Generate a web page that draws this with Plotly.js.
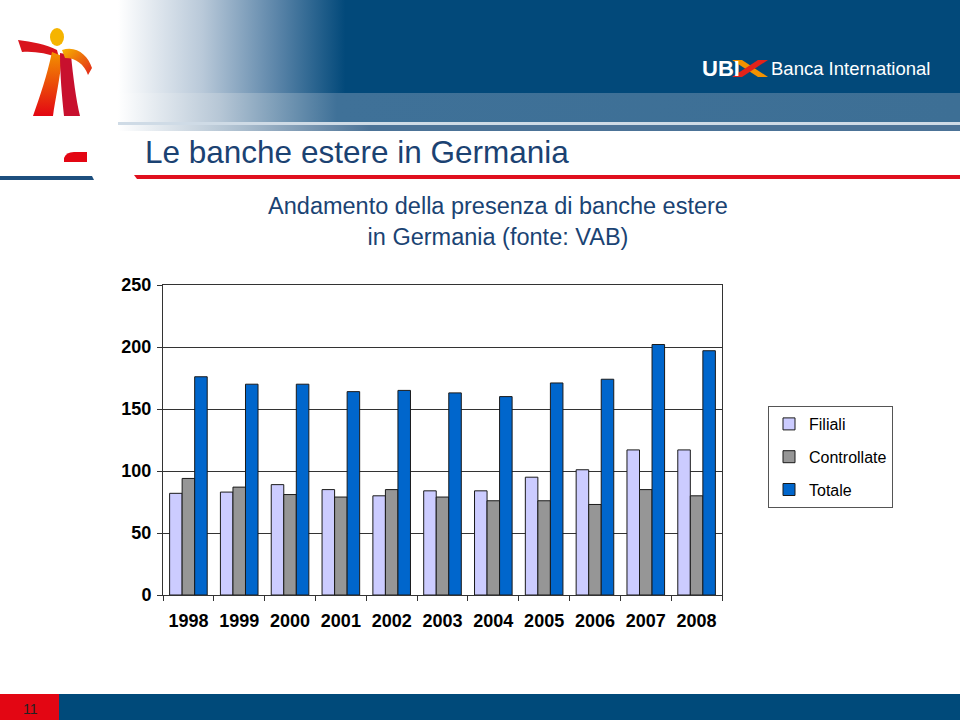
<!DOCTYPE html>
<html>
<head>
<meta charset="utf-8">
<script src="https://cdn.plot.ly/plotly-3.0.1.min.js"></script>
<style>
  html, body { margin: 0; padding: 0; background: #ffffff; }
  #chart { width: 960px; height: 720px; }
</style>
</head>
<body>
<div id="chart"></div>
<script>
// ---- Data ----
var years = ["1998", "1999", "2000", "2001", "2002", "2003", "2004", "2005", "2006", "2007", "2008"];
var filiali = [82, 83, 89, 85, 80, 84, 84, 95, 101, 117, 117];
var controllate = [94, 87, 81, 79, 85, 79, 76, 76, 73, 85, 80];
var totale = [176, 170, 170, 164, 165, 163, 160, 171, 174, 202, 197];
var seriesNames = ["Filiali", "Controllate", "Totale"];
var yTicks = [0, 50, 100, 150, 200, 250];

var sans = "'Liberation Sans', Arial, sans-serif";

// ---- Decorative slide background (header, logo, rules, footer) ----
var svg = "<svg xmlns='http://www.w3.org/2000/svg' width='960' height='720' viewBox='0 0 960 720'>" +
  "<defs>" +
  "<linearGradient id='g1' x1='0' x2='1' y1='0' y2='0'>" +
    "<stop offset='0' stop-color='#ffffff'/><stop offset='0.1' stop-color='#b9c9d9'/>" +
    "<stop offset='0.19' stop-color='#5a84a8'/><stop offset='0.27' stop-color='#02497a'/>" +
    "<stop offset='1' stop-color='#02497a'/></linearGradient>" +
  "<linearGradient id='g2' x1='0' x2='1' y1='0' y2='0'>" +
    "<stop offset='0' stop-color='#ffffff'/><stop offset='0.12' stop-color='#b7c7d6'/>" +
    "<stop offset='0.26' stop-color='#3f7198'/><stop offset='1' stop-color='#3d6f95'/></linearGradient>" +
  "<linearGradient id='g3' x1='0' x2='1' y1='0' y2='0'>" +
    "<stop offset='0' stop-color='#ffffff'/><stop offset='0.15' stop-color='#a9bccd'/>" +
    "<stop offset='0.3' stop-color='#4c7397'/><stop offset='1' stop-color='#4c7397'/></linearGradient>" +
  "<linearGradient id='leg' x1='0' x2='0' y1='0' y2='1'>" +
    "<stop offset='0' stop-color='#f39200'/><stop offset='1' stop-color='#e30613'/></linearGradient>" +
  "<linearGradient id='arm' x1='0' x2='1' y1='0' y2='1'>" +
    "<stop offset='0' stop-color='#f7b500'/><stop offset='1' stop-color='#e2231a'/></linearGradient>" +
  "</defs>" +
  "<rect x='118' y='0' width='842' height='93' fill='url(#g1)'/>" +
  "<rect x='118' y='93' width='842' height='29' fill='url(#g2)'/>" +
  "<rect x='118' y='122' width='842' height='3' fill='#cfdbe6'/>" +
  "<rect x='118' y='125' width='842' height='6' fill='url(#g3)'/>" +
  // logo figure
  "<ellipse cx='57' cy='37' rx='7' ry='9' fill='#f5b400'/>" +
  "<path d='M18,40 C32,42 46,44 57,50 L59,58 C47,53 33,51 22,52 Z' fill='#d9141c'/>" +
  "<path d='M52,52 L62,56 C60,80 55,100 53,116 L33,116 C40,96 47,76 52,52 Z' fill='url(#leg)'/>" +
  "<path d='M60,53 L71,55 C73,76 76,100 80,116 L64,116 C62,96 60,76 60,53 Z' fill='#c8102e'/>" +
  "<path d='M62,50 C76,45 88,55 92,68 L88,75 C84,64 76,58 65,58 Z' fill='url(#arm)'/>" +
  "<path d='M64,162 L64,158 Q66,152 74,152 L87,152 L87,162 Z' fill='#e30613'/>" +
  // rules under title
  "<path d='M0,176 L92,176 L94,180 L0,180 Z' fill='#1d4f7e'/>" +
  "<path d='M134,175 L960,175 L960,179 L137,179 Z' fill='#e0101e'/>" +
  // UBI X mark
  "<path d='M732,60 L742,60 L768,77 L758,77 Z' fill='#f39200'/>" +
  "<path d='M732,77 L742,77 L768,60 L758,60 Z' fill='#e2231a'/>" +
  // footer
  "<rect x='0' y='694' width='59' height='26' fill='#e30613'/>" +
  "<rect x='59' y='694' width='901' height='26' fill='#004a7a'/>" +
  "</svg>";
var bgURI = "data:image/svg+xml;charset=utf-8," + encodeURIComponent(svg);

var colors = ["#ccccff", "#969696", "#0066cc"];
var values = [filiali, controllate, totale];
var traces = seriesNames.map(function (n, i) {
  return {
    type: "bar",
    name: n,
    legendgroup: "g" + i,
    x: years,
    y: values[i],
    marker: { color: colors[i], line: { color: "#1a1a1a", width: 1 } },
    hoverinfo: "x+y+name"
  };
});

var x0 = 163 / 960, x1 = 722 / 960;
var yTop = 1 - 285 / 720, yBot = 1 - 595 / 720;

var layout = {
  width: 960,
  height: 720,
  margin: { l: 0, r: 0, t: 0, b: 0 },
  paper_bgcolor: "#ffffff",
  plot_bgcolor: "#ffffff",
  barmode: "group",
  bargap: 0.26,
  bargroupgap: 0,
  showlegend: true,
  title: {
    text: "Andamento della presenza di banche estere<br>in Germania (fonte: VAB)",
    x: 498 / 960,
    xanchor: "center",
    xref: "paper",
    y: 1 - 214 / 720,
    yref: "paper",
    yanchor: "top",
    font: { family: sans, size: 23.5, color: "#1a4373" }
  },
  xaxis: {
    domain: [x0, x1],
    type: "category",
    tickson: "boundaries",
    ticks: "outside",
    ticklen: 5,
    tickcolor: "#333333",
    tickangle: 0,
    ticklabelstandoff: 9,
    showline: true,
    linecolor: "#333333",
    linewidth: 1,
    mirror: true,
    showgrid: false,
    tickfont: { family: sans, size: 18, color: "#000000", weight: "bold" },
    fixedrange: true
  },
  yaxis: {
    domain: [yBot, yTop],
    range: [0, 250],
    tickvals: yTicks,
    ticktext: yTicks.map(String),
    ticks: "outside",
    ticklen: 5,
    tickcolor: "#333333",
    ticklabelstandoff: 2,
    showline: true,
    linecolor: "#333333",
    linewidth: 1,
    mirror: true,
    showgrid: true,
    gridcolor: "#333333",
    gridwidth: 1,
    zeroline: false,
    tickfont: { family: sans, size: 18, color: "#000000", weight: "bold" },
    fixedrange: true
  },
  legend: {
    x: 768 / 960,
    xanchor: "left",
    y: 1 - 406 / 720,
    yanchor: "top",
    bgcolor: "#ffffff",
    bordercolor: "#555555",
    borderwidth: 1,
    font: { family: sans, size: 16, color: "#000000" },
    tracegroupgap: 9,
    itemwidth: 30
  },
  images: [{
    source: bgURI,
    xref: "paper", yref: "paper",
    x: 0, y: 1, sizex: 1, sizey: 1,
    xanchor: "left", yanchor: "top",
    sizing: "stretch",
    layer: "below"
  }],
  annotations: [
    {
      text: "Le banche estere in Germania",
      xref: "paper", yref: "paper",
      x: 143 / 960, y: 1 - 152 / 720,
      xanchor: "left", yanchor: "middle",
      showarrow: false,
      font: { family: sans, size: 31.5, color: "#1b4272" }
    },
    {
      text: "<b>UBI</b>",
      xref: "paper", yref: "paper",
      x: 700 / 960, y: 1 - 68 / 720,
      xanchor: "left", yanchor: "middle",
      showarrow: false,
      font: { family: sans, size: 22, color: "#ffffff" }
    },
    {
      text: "Banca International",
      xref: "paper", yref: "paper",
      x: 769 / 960, y: 1 - 68 / 720,
      xanchor: "left", yanchor: "middle",
      showarrow: false,
      font: { family: sans, size: 18.5, color: "#ffffff" }
    },
    {
      text: "11",
      xref: "paper", yref: "paper",
      x: 30 / 960, y: 1 - 709 / 720,
      xanchor: "center", yanchor: "middle",
      showarrow: false,
      font: { family: sans, size: 14, color: "#222222" }
    }
  ]
};

Plotly.newPlot("chart", traces, layout, { displayModeBar: false });
</script>
</body>
</html>
